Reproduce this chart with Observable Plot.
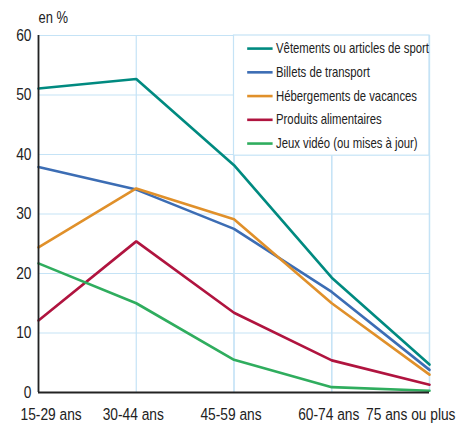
<!DOCTYPE html>
<html><head><meta charset="utf-8">
<script src="https://cdn.jsdelivr.net/npm/d3@7"></script>
<script src="https://cdn.jsdelivr.net/npm/@observablehq/plot@0.6"></script>
<style>
body{margin:0;background:#fff;}
svg{font-family:"Liberation Sans",Arial,sans-serif;}
</style></head><body><div id="chart"></div>
<script>
const ages = ["15-29 ans","30-44 ans","45-59 ans","60-74 ans","75 ans ou plus"];
const seriesNames = ["Vêtements ou articles de sport","Billets de transport","Hébergements de vacances","Produits alimentaires","Jeux vidéo (ou mises à jour)"];
const colors = ["#008a80","#3c6db4","#e0902a","#b0143f","#2fad5e"];
const vetements = [51.1, 52.7, 38.2, 19.3, 4.7];
const billets = [37.9, 34.1, 27.5, 16.9, 3.8];
const hebergements = [24.4, 34.3, 29.1, 15.0, 3.0];
const produits = [12.1, 25.4, 13.4, 5.4, 1.3];
const jeux = [21.7, 15.0, 5.5, 0.9, 0.3];
const yTicks = [0,10,20,30,40,50,60];

const allSeries = [vetements, billets, hebergements, produits, jeux];
const data = allSeries.flatMap((vals, s) => vals.map((v, i) => ({serie: seriesNames[s], i, v})));
const idx = ages.map((a, i) => i);
const grid = "#c5e3f6";

const legRows = seriesNames.map((n, k) => ({n, k, y: 57.8 - k * 3.99}));

const plot = Plot.plot({
  width: 458, height: 423,
  marginLeft: 38, marginRight: 29, marginTop: 35, marginBottom: 31,
  x: {type: "linear", domain: [0, 4], axis: null},
  y: {domain: [0, 60], axis: null},
  color: {domain: seriesNames, range: colors},
  marks: [
    Plot.ruleY(yTicks, {stroke: grid, strokeWidth: 1.2}),
    Plot.ruleX(idx, {stroke: grid, strokeWidth: 1.2}),
    Plot.rect([0], {x1: 2, x2: 4, y1: 39.8, y2: 60, fill: "white", stroke: grid, strokeWidth: 1.2}),
    Plot.ruleX(idx.filter(i => i >= 2), {y1: 0, y2: 39.8, stroke: grid, strokeWidth: 1.2}),
    Plot.ruleX([4], {stroke: grid, strokeWidth: 1.2}),
    Plot.line(data, {x: "i", y: "v", z: "serie", stroke: "serie", strokeWidth: 2.6, strokeLinejoin: "miter"}),
    Plot.ruleX([0], {stroke: "#222", strokeWidth: 1.8}),
    Plot.ruleY([0], {stroke: "#222", strokeWidth: 1.8}),
    Plot.text(yTicks, {x: 0, y: d => d, text: d => String(d), textAnchor: "end", dx: -7, fontSize: 17, fill: "#222"}),
    Plot.text(["en %"], {x: 0, y: 60, text: d => d, textAnchor: "start", dy: -18, dx: 0, fontSize: 16, fill: "#222"}),
    Plot.text([0], {x: d => d, y: 0, text: d => ages[d], textAnchor: "start", dx: -18, dy: 22, fontSize: 17, fill: "#222"}),
    Plot.text([1,2,3], {x: d => d, y: 0, text: d => ages[d], textAnchor: "middle", dx: -3, dy: 22, fontSize: 17, fill: "#222"}),
    Plot.text([4], {x: d => d, y: 0, text: d => ages[d], textAnchor: "end", dx: 26, dy: 22, fontSize: 17, fill: "#222"}),
    Plot.ruleY(legRows, {x1: 2.14, x2: 2.4, y: "y", stroke: d => d.n, strokeWidth: 2.6}),
    Plot.text(legRows, {x: 2.43, y: "y", text: "n", textAnchor: "start", fontSize: 14, fill: "#222"})
  ]
});
document.getElementById("chart").append(plot);
// condensed look: squeeze glyphs horizontally around each text's anchor
const k = 0.81;
plot.querySelectorAll("text").forEach(t => {
  const xa = t.getAttribute("x");
  if (xa !== null && !isNaN(+xa)) t.setAttribute("x", (+xa / k).toFixed(2));
  const tr = t.getAttribute("transform") || "";
  t.setAttribute("transform", (tr + ` scale(${k},1)`).trim());
});
</script></body></html>
